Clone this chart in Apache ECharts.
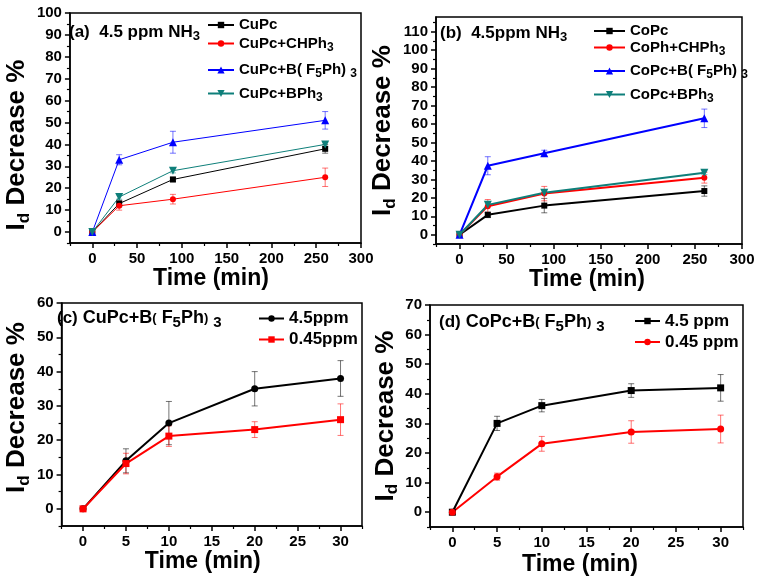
<!DOCTYPE html>
<html><head><meta charset="utf-8">
<script src="https://cdn.jsdelivr.net/npm/echarts@6/dist/echarts.min.js"></script>
<style>html,body{margin:0;padding:0;background:#fff}#c{width:762px;height:582px}</style>
</head><body><div id="c"></div>
<script>
// ---------- Data ----------
// Panel (a): CuPc based sensors, 4.5 ppm NH3
const timeA = [0, 30, 90, 260];
const aCuPc = [0, 13, 24, 38];
const aCuPcErr = [0, 1.5, 1, 2];
const aCuPcCHPh3 = [0, 12, 15, 25];
const aCuPcCHPh3Err = [0, 2, 2.2, 4.2];
const aCuPcBF5 = [0, 33, 41, 51];
const aCuPcBF5Err = [0, 2.3, 5, 4];
const aCuPcBPh3 = [0, 16, 28, 40];
const aCuPcBPh3Err = [0, 1, 1, 1];
// Panel (b): CoPc based sensors, 4.5 ppm NH3
const timeB = [0, 30, 90, 260];
const bCoPc = [0, 10.8, 15.8, 23.7];
const bCoPcErr = [0, 1.5, 3.9, 2.8];
const bCoPhCHPh3 = [0, 15.5, 22.3, 30.9];
const bCoPhCHPh3Err = [0, 3.6, 3.9, 2.9];
const bCoPcBF5 = [0, 37.4, 44.2, 63.1];
const bCoPcBF5Err = [0, 4.9, 1.6, 5];
const bCoPcBPh3 = [0, 16.2, 22.8, 33.6];
const bCoPcBPh3Err = [0, 1, 1, 1];
// Panel (c): CuPc+B(F5Ph)3
const timeC = [0, 5, 10, 20, 30];
const c45 = [0, 14, 25, 35, 38];
const c45Err = [0, 3.5, 6.3, 5, 5.2];
const c045 = [0, 13.2, 21.2, 23.1, 26];
const c045Err = [0, 3, 3, 2.3, 4.6];
// Panel (d): CoPc+B(F5Ph)3
const timeD = [0, 5, 10, 20, 30];
const d45 = [0, 30, 36, 41.1, 42];
const d45Err = [0, 2.4, 2.1, 2.3, 4.5];
const d045 = [0, 12, 23.1, 27.1, 28.1];
const d045Err = [0, 1.2, 2.5, 3.8, 4.7];
// Tick values
const xMajorAB = [0, 50, 100, 150, 200, 250, 300];
const xMinorAB = [-25, 25, 75, 125, 175, 225, 275];
const xMajorCD = [0, 5, 10, 15, 20, 25, 30];
const xMinorCD = [-2.5, 2.5, 7.5, 12.5, 17.5, 22.5, 27.5, 32.5];
const yMajorA = [0, 10, 20, 30, 40, 50, 60, 70, 80, 90, 100];
const yMinorA = [-5, 5, 15, 25, 35, 45, 55, 65, 75, 85, 95];
const yMajorB = [0, 10, 20, 30, 40, 50, 60, 70, 80, 90, 100, 110];
const yMinorB = [-5, 5, 15, 25, 35, 45, 55, 65, 75, 85, 95, 105, 115];
const yMajorC = [0, 10, 20, 30, 40, 50, 60];
const yMinorC = [-5, 5, 15, 25, 35, 45, 55];
const yMajorD = [0, 10, 20, 30, 40, 50, 60, 70];
const yMinorD = [-5, 5, 15, 25, 35, 45, 55, 65];

// ---------- Styling / layout ----------
const FF = '"Liberation Sans", Arial, Helvetica, sans-serif';
const BLACK = '#000000', RED = '#ff0000', BLUE = '#0000ff', TEAL = '#0e7f7a';

const panels = [
  {grid:{left:62, top:13, width:299, height:230}, xr:[-25,300], yr:[-5,100], xMaj:xMajorAB, xMin:xMinorAB, yMaj:yMajorA, yMin:yMinorA, xGap:12, xPad:[0,9,0,0], yGap:32, yPad:[0,34,0,0]},
  {grid:{left:436, top:17, width:306, height:227}, xr:[-25,300], yr:[-5,118], xMaj:xMajorAB, xMin:xMinorAB, yMaj:yMajorB, yMin:yMinorB, xGap:15, xPad:[0,4,0,0], yGap:28, yPad:[0,0,0,0]},
  {grid:{left:53, top:303, width:309, height:223}, xr:[-2.5,32.5], yr:[-5,60], xMaj:xMajorCD, xMin:xMinorCD, yMaj:yMajorC, yMin:yMinorC, xGap:16, xPad:[0,18,0,0], yGap:25, yPad:[0,0,0,14]},
  {grid:{left:430, top:305, width:313, height:222}, xr:[-2.5,32.5], yr:[-5,70], xMaj:xMajorCD, xMin:xMinorCD, yMaj:yMajorD, yMin:yMinorD, xGap:26, xPad:[0,13,0,0], yGap:24, yPad:[0,0,0,0]}
];

const grid = [], xAxis = [], yAxis = [], series = [], legend = [], graphic = [];
const labelStyle = {color:BLACK, fontSize:15, fontWeight:'bold', fontFamily:FF};

panels.forEach((p, i) => {
  grid.push(Object.assign({show:true, borderColor:BLACK, borderWidth:1.5, backgroundColor:'transparent', containLabel:false}, p.grid));
  xAxis.push({
    type:'value', gridIndex:i, min:p.xr[0], max:p.xr[1], position:'bottom',
    axisLine:{show:true, onZero:false, lineStyle:{color:BLACK, width:1.5}},
    axisTick:{show:true, inside:false, length:5, customValues:p.xMaj, lineStyle:{color:BLACK, width:1.5}},
    axisLabel:Object.assign({show:true, margin:8, customValues:p.xMaj}, labelStyle),
    splitLine:{show:false},
    name:'Time (min)', nameLocation:'middle', nameGap:p.xGap,
    nameTextStyle:{color:BLACK, fontSize:23, fontWeight:'bold', fontFamily:FF, padding:p.xPad}
  });
  xAxis.push({
    type:'value', gridIndex:i, min:p.xr[0], max:p.xr[1], position:'bottom',
    axisLine:{show:false, onZero:false}, axisLabel:{show:false}, splitLine:{show:false},
    axisTick:{show:true, inside:false, length:3, customValues:p.xMin, lineStyle:{color:BLACK, width:1.2}}
  });
  yAxis.push({
    type:'value', gridIndex:i, min:p.yr[0], max:p.yr[1], position:'left',
    axisLine:{show:true, onZero:false, lineStyle:{color:BLACK, width:1.5}},
    axisTick:{show:true, inside:false, length:5, customValues:p.yMaj, lineStyle:{color:BLACK, width:1.5}},
    axisLabel:Object.assign({show:true, margin:8, customValues:p.yMaj}, labelStyle),
    splitLine:{show:false},
    name:'{m|I}{s|d}{m| Decrease %}', nameLocation:'middle', nameGap:p.yGap, nameRotate:90,
    nameTextStyle:{color:BLACK, fontSize:26, fontWeight:'bold', fontFamily:FF, lineHeight:32, padding:p.yPad,
      rich:{m:{fontSize:26, fontWeight:'bold', fontFamily:FF, color:BLACK},
            s:{fontSize:17, fontWeight:'bold', fontFamily:FF, color:BLACK, padding:[14,0,0,0]}}}
  });
  yAxis.push({
    type:'value', gridIndex:i, min:p.yr[0], max:p.yr[1], position:'left',
    axisLine:{show:false, onZero:false}, axisLabel:{show:false}, splitLine:{show:false},
    axisTick:{show:true, inside:false, length:3, customValues:p.yMin, lineStyle:{color:BLACK, width:1.2}}
  });
});

function addSeries(pi, name, xs, ys, errs, st) {
  series.push({
    type:'line', name, xAxisIndex:pi*2, yAxisIndex:pi*2,
    data: xs.map((x, k) => [x, ys[k]]),
    symbol:st.symbol, symbolSize:st.size, symbolRotate:st.rotate || 0, showAllSymbol:true,
    lineStyle:{color:st.color, width:st.lw}, itemStyle:{color:st.color},
    emphasis:{disabled:true}, z:4
  });
  series.push({
    type:'custom', name:name + ' error', xAxisIndex:pi*2, yAxisIndex:pi*2,
    data: xs.map((x, k) => [x, ys[k] - errs[k], ys[k] + errs[k]]),
    encode:{x:0, y:[1, 2]}, silent:true, z:3,
    renderItem:function(params, api) {
      const x = api.value(0), lo = api.value(1), hi = api.value(2);
      if (hi - lo <= 0) return null;
      const p1 = api.coord([x, lo]), p2 = api.coord([x, hi]);
      const hw = 3;
      const s = {stroke:st.color, lineWidth:1, opacity:0.55};
      return {type:'group', children:[
        {type:'line', shape:{x1:p1[0], y1:p1[1], x2:p2[0], y2:p2[1]}, style:s},
        {type:'line', shape:{x1:p1[0]-hw, y1:p1[1], x2:p1[0]+hw, y2:p1[1]}, style:s},
        {type:'line', shape:{x1:p2[0]-hw, y1:p2[1], x2:p2[0]+hw, y2:p2[1]}, style:s}
      ]};
    }
  });
}

// Panel (a)
addSeries(0, 'CuPc', timeA, aCuPc, aCuPcErr, {symbol:'rect', size:6, color:BLACK, lw:1});
addSeries(0, 'CuPc+CHPh3', timeA, aCuPcCHPh3, aCuPcCHPh3Err, {symbol:'circle', size:6, color:RED, lw:1});
addSeries(0, 'CuPc+B(F5Ph)3', timeA, aCuPcBF5, aCuPcBF5Err, {symbol:'triangle', size:8, color:BLUE, lw:1});
addSeries(0, 'CuPc+BPh3', timeA, aCuPcBPh3, aCuPcBPh3Err, {symbol:'triangle', size:8, rotate:180, color:TEAL, lw:1});
// Panel (b)
addSeries(1, 'CoPc', timeB, bCoPc, bCoPcErr, {symbol:'rect', size:6, color:BLACK, lw:2});
addSeries(1, 'CoPh+CHPh3', timeB, bCoPhCHPh3, bCoPhCHPh3Err, {symbol:'circle', size:6, color:RED, lw:2});
addSeries(1, 'CoPc+B(F5Ph)3', timeB, bCoPcBF5, bCoPcBF5Err, {symbol:'triangle', size:8, color:BLUE, lw:2});
addSeries(1, 'CoPc+BPh3', timeB, bCoPcBPh3, bCoPcBPh3Err, {symbol:'triangle', size:8, rotate:180, color:TEAL, lw:2});
// Panel (c)
addSeries(2, '4.5ppm', timeC, c45, c45Err, {symbol:'circle', size:7, color:BLACK, lw:2});
addSeries(2, '0.45ppm', timeC, c045, c045Err, {symbol:'rect', size:7, color:RED, lw:2});
// Panel (d)
addSeries(3, '4.5 ppm', timeD, d45, d45Err, {symbol:'rect', size:7, color:BLACK, lw:2});
addSeries(3, '0.45 ppm', timeD, d045, d045Err, {symbol:'circle', size:7, color:RED, lw:2});

// ---------- Legends ----------
const legendText = {
  'CuPc':'{m|CuPc}', 'CuPc+CHPh3':'{m|CuPc+CHPh}{s|3}', 'CuPc+B(F5Ph)3':'{m|CuPc+B( F}{s|5}{m|Ph) }{s|3}', 'CuPc+BPh3':'{m|CuPc+BPh}{s|3}',
  'CoPc':'{m|CoPc}', 'CoPh+CHPh3':'{m|CoPh+CHPh}{s|3}', 'CoPc+B(F5Ph)3':'{m|CoPc+B( F}{s|5}{m|Ph) }{s|3}', 'CoPc+BPh3':'{m|CoPc+BPh}{s|3}',
  '4.5ppm':'{m|4.5ppm}', '0.45ppm':'{m|0.45ppm}', '4.5 ppm':'{m|4.5 ppm}', '0.45 ppm':'{m|0.45 ppm}'
};
function addLegend(name, left, rowY, fs, iw, ih) {
  legend.push({
    data:[name], left:left, top:rowY - 12, padding:0, orient:'vertical', selectedMode:false,
    itemWidth:iw, itemHeight:ih, itemGap:0,
    formatter:(n) => legendText[n],
    textStyle:{color:BLACK, fontSize:fs, fontWeight:'bold', fontFamily:FF, lineHeight:24,
      rich:{m:{fontSize:fs, fontWeight:'bold', fontFamily:FF, color:BLACK},
            s:{fontSize:fs - 3, fontWeight:'bold', fontFamily:FF, color:BLACK, padding:[8,0,0,0]}}}
  });
}
addLegend('CuPc', 207, 25, 15, 26, 8);
addLegend('CuPc+CHPh3', 207, 43.5, 15, 26, 8);
addLegend('CuPc+B(F5Ph)3', 207, 70, 15, 26, 9);
addLegend('CuPc+BPh3', 207, 93.5, 15, 26, 9);
addLegend('CoPc', 593, 31, 15, 31, 8);
addLegend('CoPh+CHPh3', 593, 47.5, 15, 31, 8);
addLegend('CoPc+B(F5Ph)3', 593, 71, 15, 31, 9);
addLegend('CoPc+BPh3', 593, 94.5, 15, 31, 9);
addLegend('4.5ppm', 258, 318.5, 17, 25, 8);
addLegend('0.45ppm', 258, 339.5, 17, 25, 8);
addLegend('4.5 ppm', 634, 321, 17, 25, 8);
addLegend('0.45 ppm', 634, 342, 17, 25, 8);

// ---------- In-plot titles ----------
function titleRich(fs) {
  return {
    m:{fontSize:fs, fontWeight:'bold', fontFamily:FF, fill:BLACK},
    t:{fontSize:fs - 1, fontWeight:'bold', fontFamily:FF, fill:BLACK},
    p:{fontSize:fs - 5, fontWeight:'bold', fontFamily:FF, fill:BLACK},
    s:{fontSize:fs - 4, fontWeight:'bold', fontFamily:FF, fill:BLACK, padding:[8,0,0,0]},
    s2:{fontSize:fs - 3, fontWeight:'bold', fontFamily:FF, fill:BLACK, padding:[10,0,0,0]}
  };
}
function addTitle(x, y, text, fs) {
  graphic.push({type:'text', x:x, y:y, z:10, silent:true,
    style:{text:text, rich:titleRich(fs), fontSize:fs, fontWeight:'bold', fontFamily:FF, fill:BLACK,
      lineHeight:28, align:'left', verticalAlign:'middle'}});
}
addTitle(69, 32, '{m|(a)  4.5 ppm NH}{s|3}', 17);
addTitle(440, 33, '{m|(b)  4.5ppm NH}{s|3}', 17);
addTitle(57, 318, '{t|(c)}{m| CuPc+B}{p|(}{m| F}{s2|5}{m|Ph}{p|)}{m| }{s2|3}', 18);
addTitle(439, 322, '{t|(d)}{m| CoPc+B}{p|(}{m| F}{s2|5}{m|Ph}{p|)}{m| }{s2|3}', 18);

const chart = echarts.init(document.getElementById('c'), null, {renderer:'canvas'});
chart.setOption({
  backgroundColor:'#ffffff', animation:false,
  grid, xAxis, yAxis, series, legend, graphic
});
</script>
</body></html>
